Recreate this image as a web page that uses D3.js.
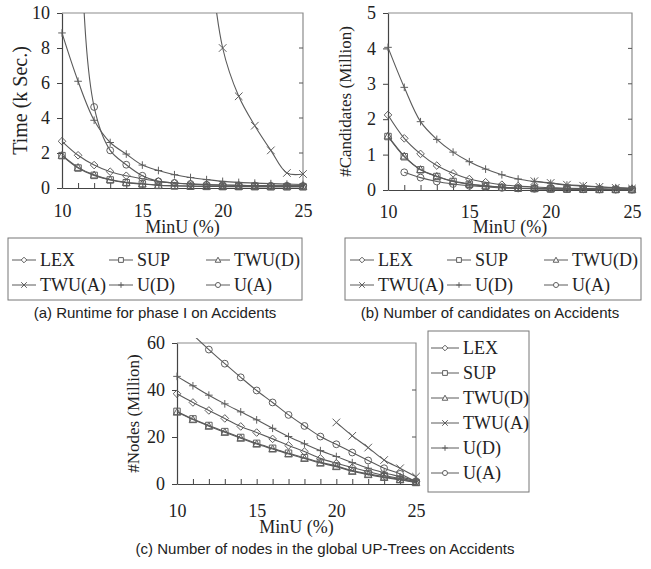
<!DOCTYPE html>
<html>
<head>
<meta charset="utf-8">
<script src="https://cdn.jsdelivr.net/npm/d3@7"></script>
<style>
  body { margin: 0; background: #fff; }
  svg { display: block; }
</style>
</head>
<body>
<svg id="fig" width="651" height="569"></svg>
<script>
// MinU (%) values on every x axis
const minU = [10, 11, 12, 13, 14, 15, 16, 17, 18, 19, 20, 21, 22, 23, 24, 25];
const seriesNames = ['LEX', 'SUP', 'TWU(D)', 'TWU(A)', 'U(D)', 'U(A)'];

// (a) runtime for phase I, k sec.
const runLEX  = [2.67, 1.87, 1.31, 0.93, 0.70, 0.53, 0.38, 0.29, 0.23, 0.20, 0.17, 0.15, 0.14, 0.13, 0.12, 0.12];
const runSUP  = [1.85, 1.14, 0.72, 0.46, 0.30, 0.23, 0.15, 0.12, 0.10, 0.09, 0.08, 0.08, 0.08, 0.07, 0.07, 0.07];
const runTWUD = [1.87, 1.18, 0.75, 0.48, 0.32, 0.24, 0.16, 0.13, 0.11, 0.10, 0.09, 0.09, 0.08, 0.08, 0.08, 0.08];
const runTWUA = [null, null, null, null, null, null, null, null, 26, 15, 8.0, 5.24, 3.56, 2.15, 0.86, 0.80];
const runUD   = [8.86, 6.10, 3.87, 2.60, 1.94, 1.31, 1.00, 0.76, 0.60, 0.48, 0.38, 0.32, 0.28, 0.25, 0.22, 0.20];
const runUA   = [45, 17, 4.63, 2.15, 1.33, 0.70, 0.38, 0.29, 0.23, 0.18, 0.16, 0.15, 0.14, 0.13, 0.13, 0.12];

// (b) number of candidates, million
const candLEX  = [2.12, 1.46, 1.02, 0.69, 0.47, 0.31, 0.22, 0.15, 0.11, 0.085, 0.065, 0.05, 0.04, 0.035, 0.03, 0.03];
const candSUP  = [1.51, 0.94, 0.57, 0.38, 0.24, 0.16, 0.11, 0.075, 0.05, 0.04, 0.03, 0.025, 0.02, 0.015, 0.012, 0.01];
const candTWUD = [1.53, 0.96, 0.58, 0.39, 0.25, 0.17, 0.12, 0.08, 0.055, 0.045, 0.035, 0.03, 0.025, 0.02, 0.015, 0.012];
const candTWUA = [null, null, null, null, null, null, null, null, null, 0.25, 0.20, 0.15, 0.12, 0.09, 0.06, 0.04];
const candUD   = [4.03, 2.90, 1.93, 1.43, 1.07, 0.80, 0.59, 0.43, 0.31, 0.24, 0.19, 0.14, 0.11, 0.085, 0.066, 0.05];
const candUA   = [null, 0.50, 0.35, 0.24, 0.17, 0.12, 0.09, 0.06, 0.045, 0.035, 0.03, 0.025, 0.02, 0.015, 0.012, 0.01];

// (c) number of nodes in the global UP-Trees, million
const nodeLEX  = [38.4, 34.7, 31.3, 27.9, 24.5, 21.9, 19.2, 16.4, 13.8, 10.9, 8.8, 7.0, 5.3, 3.6, 2.4, 1.0];
const nodeSUP  = [30.9, 27.7, 24.9, 22.3, 19.8, 17.3, 15.2, 13.1, 11.2, 9.2, 7.7, 5.7, 4.3, 3.1, 2.0, 0.7];
const nodeTWUD = [30.6, 27.4, 24.6, 22.0, 19.5, 17.0, 14.9, 12.8, 10.9, 8.9, 7.4, 5.4, 4.0, 2.8, 1.8, 0.6];
const nodeTWUA = [null, null, null, null, null, null, null, null, null, null, 26.2, 20.5, 15.5, 10.2, 6.7, 3.1];
const nodeUD   = [45.8, 41.8, 37.8, 34.1, 30.7, 27.3, 23.7, 20.2, 17.1, 14.2, 11.7, 9.1, 6.7, 4.8, 3.1, 1.4];
const nodeUA   = [70, 63.5, 57.2, 51.2, 45.4, 39.8, 34.7, 29.4, 24.7, 20.2, 16.9, 13.4, 10.0, 6.7, 4.3, 1.0];

const xTickLabels = [10, 15, 20, 25];
const runTicks = [0, 2, 4, 6, 8, 10];
const candTicks = [0, 1, 2, 3, 4, 5];
const nodeTicks = [0, 20, 40, 60];

const serif = "'Liberation Serif', 'Times New Roman', serif";
const sans = "'Liberation Sans', Arial, sans-serif";
const lineColor = '#5a5a5a';

const svg = d3.select('#fig');

// marker shapes, centred on 0,0
function markerPath(name, r) {
  const p = d3.path();
  if (name === 'LEX') {
    p.moveTo(0, -r); p.lineTo(r, 0); p.lineTo(0, r); p.lineTo(-r, 0); p.closePath();
  } else if (name === 'SUP') {
    p.rect(-r * 0.85, -r * 0.85, r * 1.7, r * 1.7);
  } else if (name === 'TWU(D)') {
    p.moveTo(0, -r); p.lineTo(r, r * 0.8); p.lineTo(-r, r * 0.8); p.closePath();
  } else if (name === 'TWU(A)') {
    p.moveTo(-r, -r); p.lineTo(r, r); p.moveTo(r, -r); p.lineTo(-r, r);
  } else if (name === 'U(D)') {
    p.moveTo(-r, 0); p.lineTo(r, 0); p.moveTo(0, -r); p.lineTo(0, r);
  } else {
    p.arc(0, 0, r * 0.9, 0, 2 * Math.PI);
  }
  return p.toString();
}

function drawPanel(cfg) {
  const b = cfg.box;
  const x = d3.scaleLinear().domain([10, 25]).range([b.x, b.x + b.w]);
  const y = d3.scaleLinear().domain(cfg.yDomain).range([b.y + b.h, b.y]);
  const g = svg.append('g');

  // frame: top and right edges
  g.append('path')
    .attr('d', `M${b.x},${b.y}H${b.x + b.w}V${b.y + b.h}`)
    .attr('fill', 'none').attr('stroke', '#8c8c8c').attr('stroke-width', 1.2);

  // right side inner ticks
  g.append('g').selectAll('line').data(cfg.yTicks.slice(1, -1)).join('line')
    .attr('x1', b.x + b.w - 4).attr('x2', b.x + b.w)
    .attr('y1', d => y(d)).attr('y2', d => y(d))
    .attr('stroke', '#555');

  // y axis
  g.append('g')
    .attr('transform', `translate(${b.x},0)`)
    .call(d3.axisLeft(y).tickValues(cfg.yTicks).tickFormat(d3.format('d'))
      .tickSizeInner(5).tickSizeOuter(0).tickPadding(7))
    .call(a => a.select('.domain').attr('stroke', '#444').attr('stroke-width', 1.2))
    .call(a => a.selectAll('.tick line').attr('stroke', '#444'))
    .call(a => a.selectAll('text').attr('font-family', serif).attr('font-size', 18).attr('fill', '#222'));

  // x axis: inner ticks on each MinU, labels every 5
  g.append('g')
    .attr('transform', `translate(0,${b.y + b.h})`)
    .call(d3.axisBottom(x).tickValues(minU).tickSizeInner(-5).tickSizeOuter(0).tickPadding(cfg.xPad)
      .tickFormat(d => xTickLabels.includes(d) ? d : ''))
    .call(a => a.select('.domain').attr('stroke', '#444').attr('stroke-width', 1.2))
    .call(a => a.selectAll('.tick line').attr('stroke', '#444'))
    .call(a => a.selectAll('text').attr('font-family', serif).attr('font-size', 18).attr('fill', '#222'));

  // axis titles
  g.append('text')
    .attr('transform', `translate(${cfg.yTitleX},${b.y + b.h / 2}) rotate(-90)`)
    .attr('text-anchor', 'middle').attr('dy', '0.35em')
    .attr('font-family', serif).attr('font-size', cfg.yTitleSize).attr('fill', '#222')
    .text(cfg.yTitle);
  g.append('text')
    .attr('x', b.x + b.w / 2).attr('y', cfg.xTitleY)
    .attr('text-anchor', 'middle').attr('dy', '0.35em')
    .attr('font-family', serif).attr('font-size', 18).attr('fill', '#222')
    .text('MinU (%)');

  // clipped series
  const clipId = 'clip' + cfg.id;
  svg.append('clipPath').attr('id', clipId).append('rect')
    .attr('x', b.x - 6).attr('y', b.y - cfg.clipTop)
    .attr('width', b.w + 12).attr('height', b.h + cfg.clipTop + 6);
  const plot = g.append('g').attr('clip-path', `url(#${clipId})`);

  const line = d3.line()
    .defined(d => d.v !== null)
    .x(d => x(d.u)).y(d => y(d.v))
    .curve(d3.curveCatmullRom.alpha(0.5));

  seriesNames.forEach((name, i) => {
    const pts = minU.map((u, j) => ({ u, v: cfg.values[i][j] }));
    plot.append('path').datum(pts)
      .attr('d', line)
      .attr('fill', 'none').attr('stroke', lineColor).attr('stroke-width', 1.1);
    plot.append('g').selectAll('path')
      .data(pts.filter(d => d.v !== null && d.v <= cfg.yDomain[1]))
      .join('path')
      .attr('transform', d => `translate(${x(d.u)},${y(d.v)})`)
      .attr('d', markerPath(name, 3.8))
      .attr('fill', 'none').attr('stroke', '#5f5f5f').attr('stroke-width', 1);
  });

  // legend
  const L = cfg.legend;
  const lg = svg.append('g');
  lg.append('rect').attr('x', L.x).attr('y', L.y).attr('width', L.w).attr('height', L.h)
    .attr('fill', '#fff').attr('stroke', '#777').attr('stroke-width', 1);
  seriesNames.forEach((name, i) => {
    const cols = L.cols || 1;
    const col = i % cols;
    const row = Math.floor(i / cols);
    const ix = L.x + L.padX + col * (L.colW || 0);
    const iy = L.y + L.firstRow + row * L.rowH;
    lg.append('line').attr('x1', ix).attr('x2', ix + L.lineW).attr('y1', iy).attr('y2', iy)
      .attr('stroke', lineColor).attr('stroke-width', 1);
    lg.append('path').attr('transform', `translate(${ix + L.lineW / 2},${iy})`)
      .attr('d', markerPath(name, 2.8))
      .attr('fill', '#fff').attr('stroke', '#5f5f5f').attr('stroke-width', 1);
    lg.append('text').attr('x', ix + L.lineW + 4).attr('y', iy).attr('dy', '0.35em')
      .attr('font-family', serif).attr('font-size', 18).attr('fill', '#222')
      .text(name);
  });

  // caption
  svg.append('text')
    .attr('x', cfg.caption.x).attr('y', cfg.caption.y).attr('dy', '0.35em')
    .attr('text-anchor', 'middle')
    .attr('font-family', sans).attr('font-size', 15).attr('fill', '#222')
    .text(cfg.caption.text);
}

drawPanel({
  id: 'a',
  box: { x: 62, y: 13, w: 241, h: 175 },
  yDomain: [0, 10], yTicks: runTicks,
  values: [runLEX, runSUP, runTWUD, runTWUA, runUD, runUA],
  yTitle: 'Time (k Sec.)', yTitleX: 20, yTitleSize: 20,
  xPad: 16, xTitleY: 227, clipTop: 0,
  legend: { x: 8, y: 238, w: 294, h: 62, cols: 3, colW: 97, padX: 4, lineW: 24, firstRow: 22, rowH: 25 },
  caption: { x: 155, y: 313, text: '(a) Runtime for phase I on Accidents' }
});

drawPanel({
  id: 'b',
  box: { x: 388, y: 13, w: 244, h: 177 },
  yDomain: [0, 5], yTicks: candTicks,
  values: [candLEX, candSUP, candTWUD, candTWUA, candUD, candUA],
  yTitle: '#Candidates (Million)', yTitleX: 345, yTitleSize: 17,
  xPad: 15, xTitleY: 227, clipTop: 0,
  legend: { x: 345, y: 238, w: 296, h: 62, cols: 3, colW: 97, padX: 5, lineW: 24, firstRow: 22, rowH: 25 },
  caption: { x: 490, y: 313, text: '(b) Number of candidates on Accidents' }
});

drawPanel({
  id: 'c',
  box: { x: 177, y: 343, w: 239, h: 141 },
  yDomain: [0, 60], yTicks: nodeTicks,
  values: [nodeLEX, nodeSUP, nodeTWUD, nodeTWUA, nodeUD, nodeUA],
  yTitle: '#Nodes (Million)', yTitleX: 133, yTitleSize: 17,
  xPad: 20, xTitleY: 527, clipTop: 5,
  legend: { x: 428, y: 331, w: 101, h: 161, padX: 3, lineW: 28, firstRow: 17, rowH: 25 },
  caption: { x: 325, y: 549, text: '(c) Number of nodes in the global UP-Trees on Accidents' }
});
</script>
</body>
</html>
